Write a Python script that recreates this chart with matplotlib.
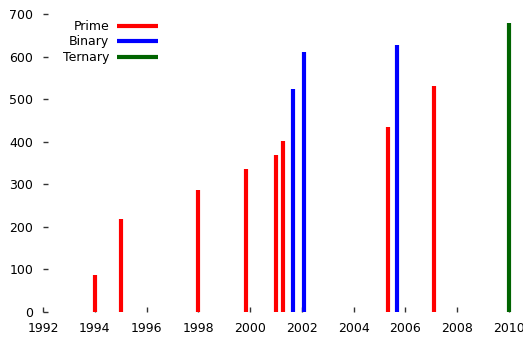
import matplotlib
matplotlib.use("Agg")
import matplotlib.pyplot as plt

prime_years = [1994.0, 1995.0, 1998.0, 1999.85, 2001.0, 2001.27, 2005.33, 2007.1]
prime_values = [88, 218, 287, 336, 368, 401, 435, 531]
binary_years = [2001.66, 2002.09, 2005.67]
binary_values = [525, 611, 627]
ternary_years = [2010.0]
ternary_values = [680]

x_ticks = list(range(1992, 2011, 2))
y_ticks = list(range(0, 701, 100))

fig = plt.figure(figsize=(5.23, 3.37), dpi=100)
W, H = 523, 337
x0, x1 = 43, 509
y0, y1 = 312, 14
ax = fig.add_axes([x0 / W, 1 - y0 / H, (x1 - x0) / W, (y0 - y1) / H])

ax.vlines(prime_years, 0, prime_values, colors="#ff0000", lw=3, label="Prime", clip_on=False)
ax.vlines(binary_years, 0, binary_values, colors="#0000ff", lw=3, label="Binary", clip_on=False)
ax.vlines(ternary_years, 0, ternary_values, colors="#006400", lw=3, label="Ternary", clip_on=False)

ax.set_xlim(1992, 2010)
ax.set_ylim(0, 700)
ax.set_xticks(x_ticks)
ax.set_yticks(y_ticks)
for s in ax.spines.values():
    s.set_visible(False)
ax.tick_params(axis="both", direction="in", length=3.5, width=1, color="#333333",
               labelsize=9, pad=7)

ax.legend(loc="upper right", bbox_to_anchor=(158 / W, 1 - 20 / H),
          bbox_transform=fig.transFigure, frameon=False, markerfirst=False,
          fontsize=9, handlelength=3.3, handletextpad=0.6, labelspacing=0.2,
          borderpad=0, borderaxespad=0)

fig.savefig("out.png", dpi=100)
